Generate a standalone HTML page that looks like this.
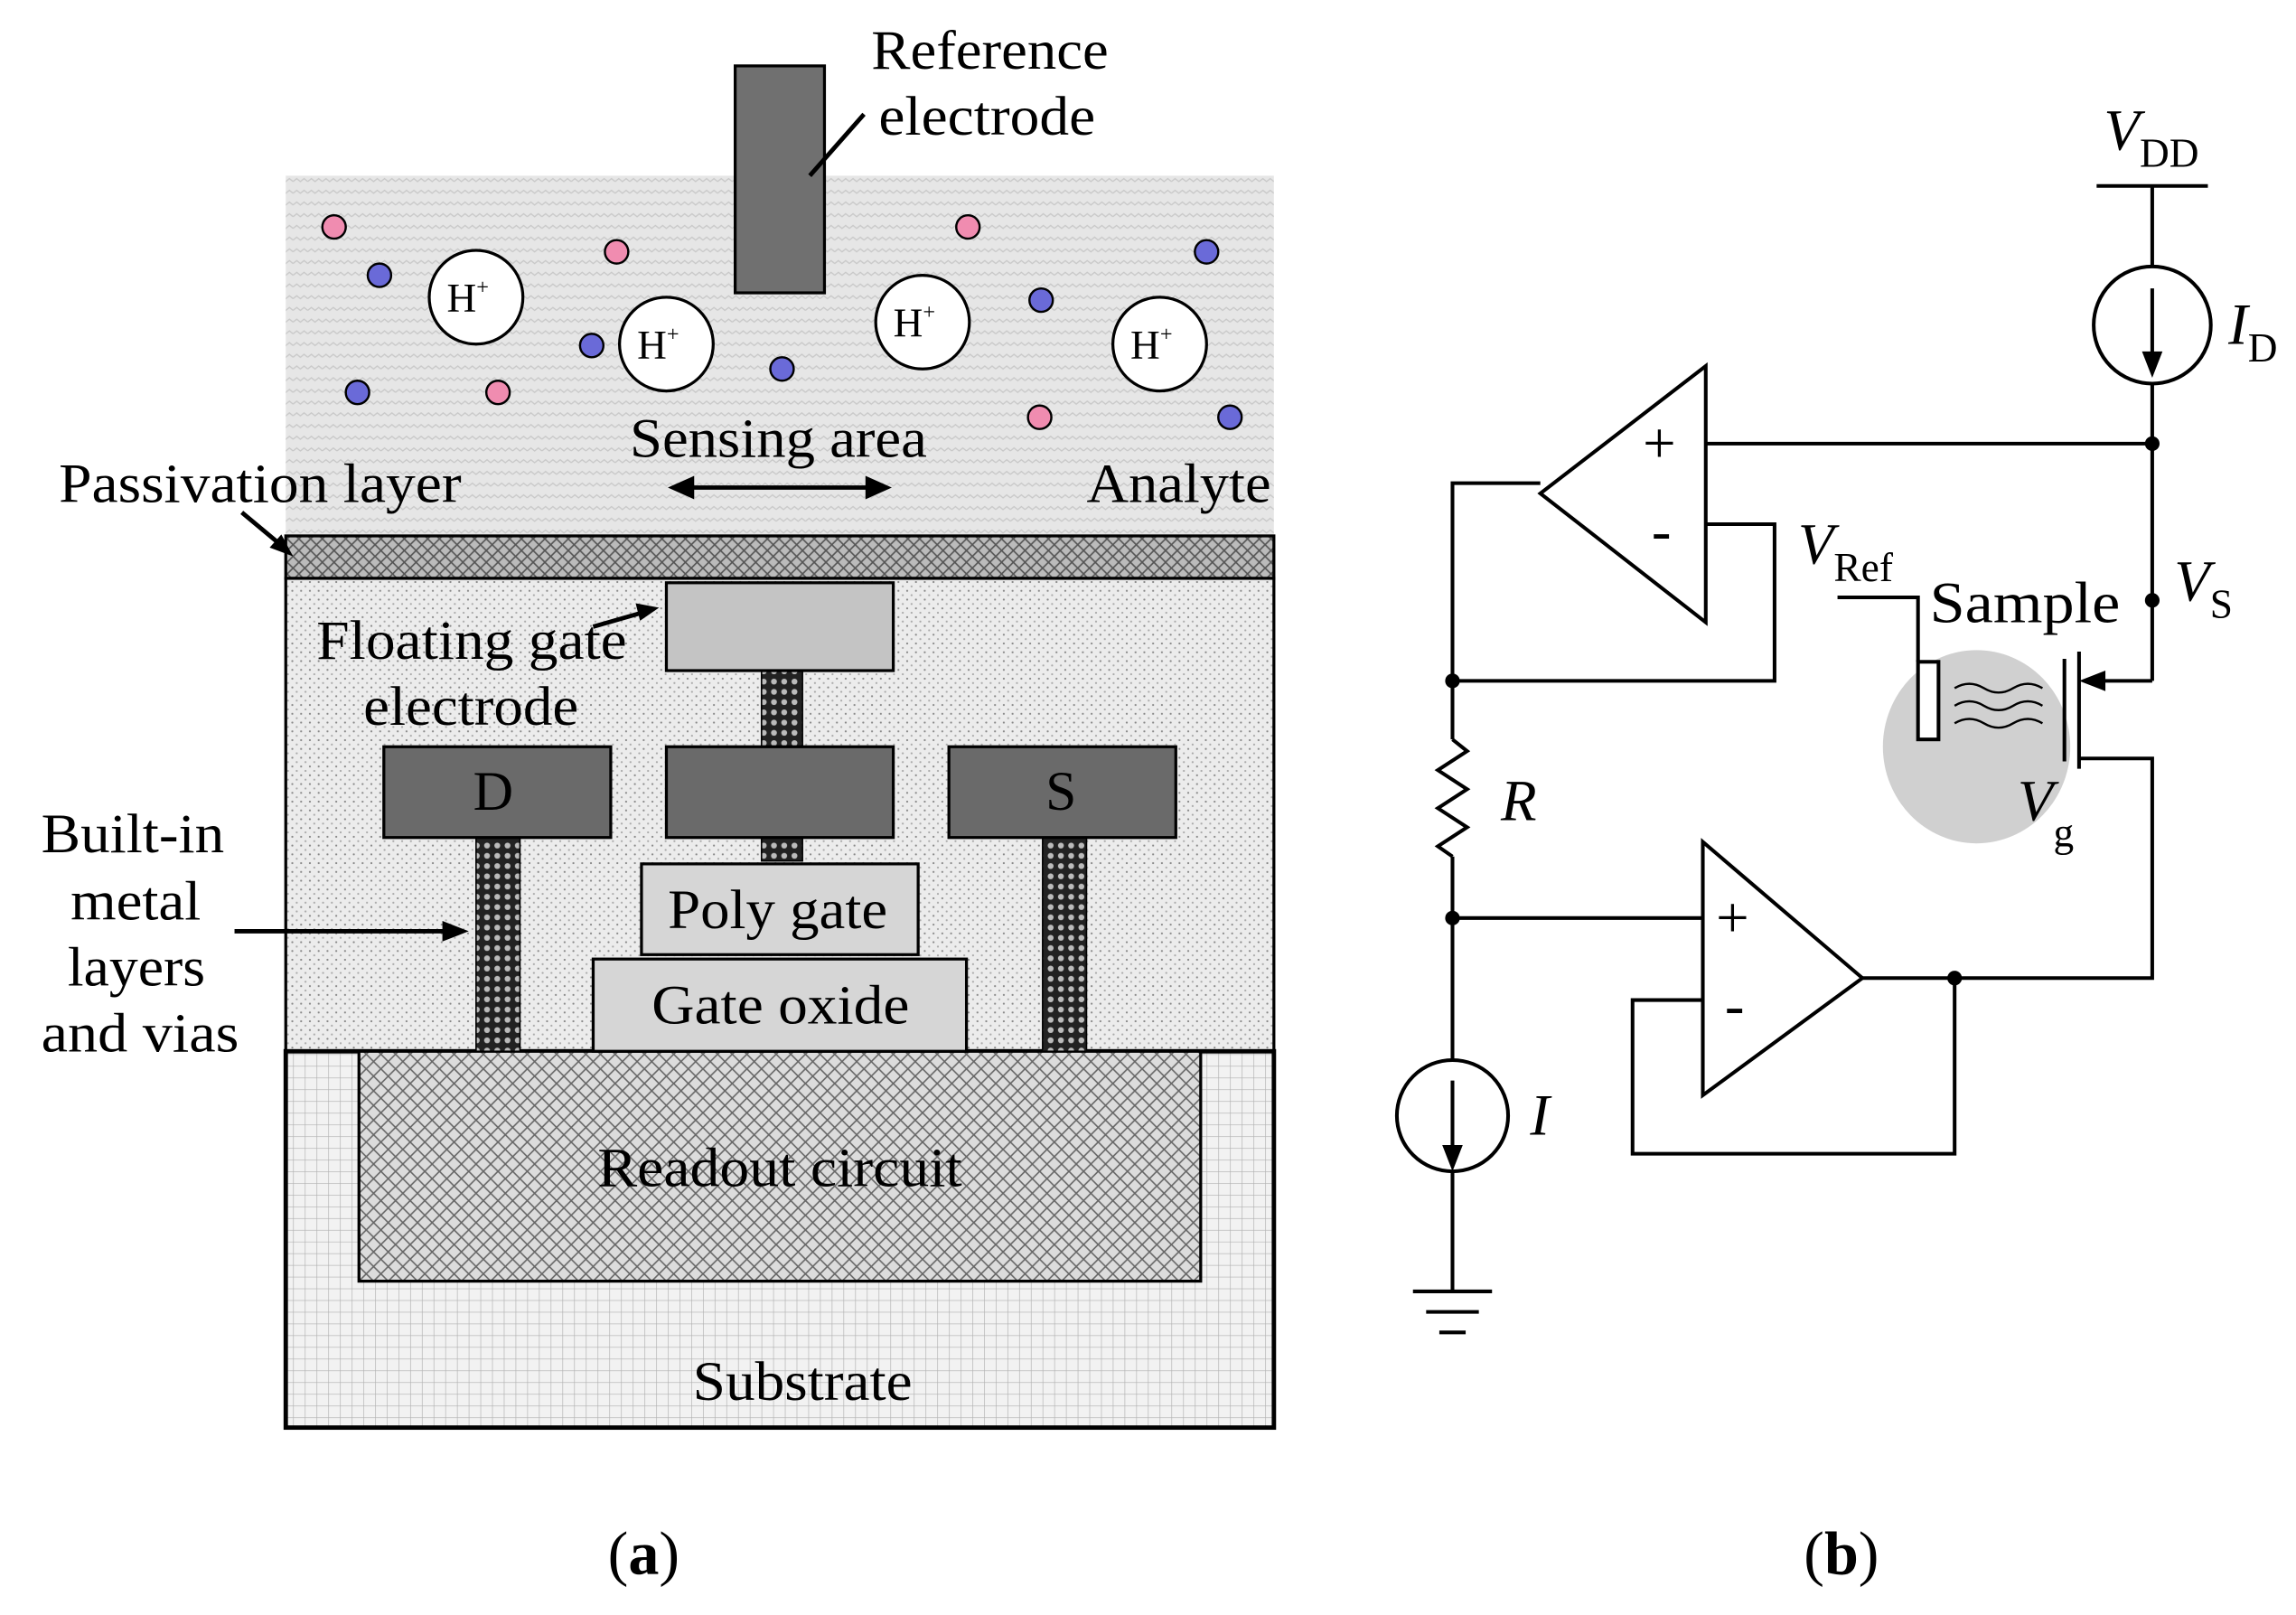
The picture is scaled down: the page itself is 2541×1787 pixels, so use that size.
<!DOCTYPE html>
<html><head><meta charset="utf-8"><style>
html,body{margin:0;padding:0;background:#fff;}
svg{display:block;}
text{font-family:"Liberation Serif",serif;fill:#000;}
</style></head><body>
<svg width="2541" height="1787" viewBox="0 0 1568 1103" xmlns="http://www.w3.org/2000/svg">
<defs>
<pattern id="wave" width="10" height="8" patternUnits="userSpaceOnUse">
<rect width="10" height="8" fill="#e6e6e6"/>
<path d="M0 4 L2.5 2 L5 4 L7.5 2 L10 4" stroke="#c8c8c8" stroke-width="0.8" fill="none"/>
</pattern>
<pattern id="dots" width="6" height="6" patternUnits="userSpaceOnUse">
<rect width="6" height="6" fill="#ececec"/>
<circle cx="1.5" cy="1.5" r="0.7" fill="#888"/><circle cx="4.5" cy="4.5" r="0.7" fill="#aaa"/>
</pattern>
<pattern id="grid" width="8" height="8" patternUnits="userSpaceOnUse">
<rect width="8" height="8" fill="#f2f2f2"/>
<path d="M0 0 H8 M0 0 V8" stroke="#b0b0b0" stroke-width="0.8"/>
</pattern>
<pattern id="cross" width="10" height="10" patternUnits="userSpaceOnUse">
<rect width="10" height="10" fill="#dcdcdc"/>
<path d="M0 0 L10 10 M10 0 L0 10" stroke="#666" stroke-width="1"/>
</pattern>
<pattern id="pass" width="8" height="8" patternUnits="userSpaceOnUse">
<rect width="8" height="8" fill="#bbb"/>
<path d="M0 4 L4 0 L8 4 L4 8 Z" stroke="#555" stroke-width="1" fill="none"/>
</pattern>
<pattern id="via" width="7" height="7" patternUnits="userSpaceOnUse">
<rect width="7" height="7" fill="#222"/>
<circle cx="3.5" cy="3.5" r="2" fill="#bbb"/>
</pattern>
</defs>

<!-- (a) -->
<rect x="195" y="120" width="675" height="246" fill="url(#wave)"/>
<rect x="195" y="366" width="675" height="29" fill="url(#pass)" stroke="#000" stroke-width="2"/>
<rect x="195" y="395" width="675" height="323" fill="url(#dots)" stroke="#000" stroke-width="2"/>
<rect x="195" y="718" width="675" height="257" fill="url(#grid)" stroke="#000" stroke-width="3"/>
<rect x="245" y="718" width="575" height="157" fill="url(#cross)" stroke="#000" stroke-width="2"/>

<rect x="502" y="45" width="61" height="155" fill="#707070" stroke="#000" stroke-width="2"/>
<rect x="520" y="458" width="28" height="130" fill="url(#via)" stroke="#000"/>
<rect x="325" y="572" width="30" height="146" fill="url(#via)" stroke="#000"/>
<rect x="712" y="572" width="30" height="146" fill="url(#via)" stroke="#000"/>
<rect x="455" y="398" width="155" height="60" fill="#c4c4c4" stroke="#000" stroke-width="2"/>
<rect x="262" y="510" width="155" height="62" fill="#6a6a6a" stroke="#000" stroke-width="2"/>
<rect x="455" y="510" width="155" height="62" fill="#6a6a6a" stroke="#000" stroke-width="2"/>
<rect x="648" y="510" width="155" height="62" fill="#6a6a6a" stroke="#000" stroke-width="2"/>
<rect x="438" y="590" width="189" height="62" fill="#d6d6d6" stroke="#000" stroke-width="2"/>
<rect x="405" y="655" width="255" height="63" fill="#d6d6d6" stroke="#000" stroke-width="2"/>

<g fill="#fff" stroke="#000" stroke-width="2">
<circle cx="325" cy="203" r="32"/><circle cx="455" cy="235" r="32"/><circle cx="630" cy="220" r="32"/><circle cx="792" cy="235" r="32"/>
</g>
<g font-size="28"><text x="305" y="213">H<tspan font-size="15" dy="-12">+</tspan></text>
<text x="435" y="245">H<tspan font-size="15" dy="-12">+</tspan></text>
<text x="610" y="230">H<tspan font-size="15" dy="-12">+</tspan></text>
<text x="772" y="245">H<tspan font-size="15" dy="-12">+</tspan></text></g>
<g stroke="#000" stroke-width="1.5">
<g fill="#f08cb0"><circle cx="228" cy="155" r="8"/><circle cx="340" cy="268" r="8"/><circle cx="421" cy="172" r="8"/><circle cx="661" cy="155" r="8"/><circle cx="710" cy="285" r="8"/></g>
<g fill="#6a6ad8"><circle cx="259" cy="188" r="8"/><circle cx="244" cy="268" r="8"/><circle cx="404" cy="236" r="8"/><circle cx="534" cy="252" r="8"/><circle cx="711" cy="205" r="8"/><circle cx="824" cy="172" r="8"/><circle cx="840" cy="285" r="8"/></g>
</g>
<g font-size="38" lengthAdjust="spacingAndGlyphs">
<text x="595" y="47" textLength="162" lengthAdjust="spacingAndGlyphs">Reference</text>
<text x="600" y="92" textLength="148" lengthAdjust="spacingAndGlyphs">electrode</text>
<text x="430" y="312" textLength="203" lengthAdjust="spacingAndGlyphs">Sensing area</text>
<text x="40" y="343" textLength="275" lengthAdjust="spacingAndGlyphs">Passivation layer</text>
<text x="742" y="343" textLength="126" lengthAdjust="spacingAndGlyphs">Analyte</text>
<text x="216" y="450" textLength="212" lengthAdjust="spacingAndGlyphs">Floating gate</text>
<text x="248" y="495" textLength="147" lengthAdjust="spacingAndGlyphs">electrode</text>
<text x="323" y="553">D</text><text x="714" y="553">S</text>
<text x="456" y="634" textLength="150" lengthAdjust="spacingAndGlyphs">Poly gate</text>
<text x="445" y="699" textLength="176" lengthAdjust="spacingAndGlyphs">Gate oxide</text>
<text x="408" y="810" textLength="249" lengthAdjust="spacingAndGlyphs">Readout circuit</text>
<text x="473" y="956" textLength="150" lengthAdjust="spacingAndGlyphs">Substrate</text>
<text x="28" y="582" textLength="125" lengthAdjust="spacingAndGlyphs">Built-in</text>
<text x="48" y="628" textLength="89" lengthAdjust="spacingAndGlyphs">metal</text>
<text x="46" y="673" textLength="94" lengthAdjust="spacingAndGlyphs">layers</text>
<text x="28" y="718" textLength="135" lengthAdjust="spacingAndGlyphs">and vias</text>
</g>
<g stroke="#000" stroke-width="3" fill="#000">
<line x1="553" y1="120" x2="590" y2="78"/>
<line x1="460" y1="333" x2="605" y2="333"/>
<path d="M456 333 L474 325 L474 341Z" stroke="none"/><path d="M609 333 L591 325 L591 341Z" stroke="none"/>
<line x1="165" y1="350" x2="195" y2="375"/><path d="M200 380 L184 374 L192 365Z" stroke="none"/>
<line x1="405" y1="428" x2="440" y2="418"/><path d="M450 415 L434 412 L437 424Z" stroke="none"/>
<line x1="160" y1="636" x2="305" y2="636"/><path d="M320 636 L302 629 L302 643Z" stroke="none"/>
</g>

<!-- (b) -->
<g stroke="#000" stroke-width="2.5" fill="none">
<line x1="1432" y1="127" x2="1508" y2="127"/>
<line x1="1470" y1="127" x2="1470" y2="182"/>
<circle cx="1470" cy="222" r="40"/>
<line x1="1470" y1="197" x2="1470" y2="245"/>
<line x1="1470" y1="262" x2="1470" y2="465"/>
<line x1="1165" y1="303" x2="1470" y2="303"/>
<line x1="1470" y1="465" x2="1433" y2="465"/>
<polyline points="1420,518 1470,518 1470,668 1272,668"/>
<polygon points="1165,250 1165,425 1052,337"/>
<polyline points="1165,358 1212,358 1212,465 992,465"/>
<polyline points="1052,330 992,330 992,505"/>
<polyline points="992,505 1002,513 982,526 1002,539 982,552 1002,565 982,578 992,585"/>
<line x1="992" y1="585" x2="992" y2="724"/>
<line x1="992" y1="627" x2="1163" y2="627"/>
<circle cx="992" cy="762" r="38"/>
<line x1="992" y1="738" x2="992" y2="786"/>
<line x1="992" y1="800" x2="992" y2="882"/>
<line x1="965" y1="882" x2="1019" y2="882"/><line x1="974" y1="896" x2="1010" y2="896"/><line x1="983" y1="910" x2="1001" y2="910"/>
<polygon points="1163,575 1163,748 1272,668"/>
<polyline points="1163,683 1115,683 1115,788 1335,788 1335,668"/>
</g>
<ellipse cx="1350" cy="510" rx="64" ry="66" fill="#c8c8c8" opacity="0.85"/>
<g stroke="#000" stroke-width="2.5" fill="none">
<line x1="1420" y1="445" x2="1420" y2="525"/>
<line x1="1410" y1="450" x2="1410" y2="520"/>
<polyline points="1255,408 1310,408 1310,452"/>
<rect x="1310" y="452" width="14" height="53" fill="#fff"/>
<path d="M1335 470 q10 -6 20 0 t20 0 t20 0" stroke-width="1.5"/>
<path d="M1335 482 q10 -6 20 0 t20 0 t20 0" stroke-width="1.5"/>
<path d="M1335 494 q10 -6 20 0 t20 0 t20 0" stroke-width="1.5"/>
</g>
<g fill="#000">
<path d="M1470 258 L1463 240 L1477 240Z"/>
<path d="M992 800 L985 782 L999 782Z"/>
<path d="M1420 465 L1438 458 L1438 472Z"/>
<circle cx="1470" cy="303" r="5"/><circle cx="1470" cy="410" r="5"/>
<circle cx="992" cy="465" r="5"/><circle cx="992" cy="627" r="5"/><circle cx="1335" cy="668" r="5"/>
</g>
<g font-size="40">
<text x="1122" y="316">+</text><text x="1128" y="376">-</text>
<text x="1172" y="640">+</text><text x="1178" y="700">-</text>
</g>
<g font-size="40" font-style="italic">
<text x="1437" y="102">V<tspan font-style="normal" font-size="28" dy="12">DD</tspan></text>
<text x="1522" y="235">I<tspan font-style="normal" font-size="28" dy="12">D</tspan></text>
<text x="1228" y="385">V<tspan font-style="normal" font-size="28" dy="12">Ref</tspan></text>
<text x="1485" y="410">V<tspan font-style="normal" font-size="28" dy="12">S</tspan></text>
<text x="1378" y="560">V<tspan font-style="normal" font-size="28" dy="18">g</tspan></text>
<text x="1025" y="560">R</text>
<text x="1045" y="775">I</text>
</g>
<text x="1318" y="425" font-size="40" textLength="130" lengthAdjust="spacingAndGlyphs">Sample</text>
<text x="415" y="1075" font-size="42">(<tspan font-weight="bold">a</tspan>)</text>
<text x="1232" y="1075" font-size="42">(<tspan font-weight="bold">b</tspan>)</text>
</svg>
</body></html>
